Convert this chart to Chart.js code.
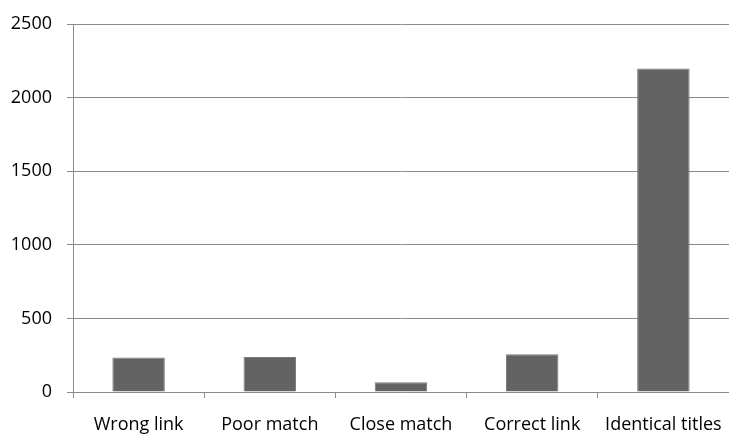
<!DOCTYPE html>
<html>
<head>
<meta charset="utf-8">
<script src="https://cdn.jsdelivr.net/npm/chart.js@4/dist/chart.umd.min.js"></script>
<style>
	html, body { margin: 0; padding: 0; background: #fff; }
	#wrap { width: 729px; height: 435px; }
</style>
</head>
<body>
<div id="wrap"><canvas id="linkChart" width="729" height="435"></canvas></div>
<script>
// match categories and counts
var categories = ['Wrong link', 'Poor match', 'Close match', 'Correct link', 'Identical titles'];
var counts = [234, 238, 66, 256, 2197];
var yTicks = [0, 500, 1000, 1500, 2000, 2500];

var gridColor = '#8c8c8c';
var fontSpec = { family: "'Open Sans', sans-serif", size: 18 };

window.linkChart = new function buildLinks(){
	var ctx = document.getElementById('linkChart');
	var chart = new Chart(ctx, {
		type: 'bar',
		data: {
			labels: categories,
			datasets: [{
				data: counts,
				backgroundColor: '#636363',
				borderColor: '#7a7a7a',
				borderWidth: 1,
				barPercentage: 0.4,
				categoryPercentage: 1
			}]
		},
		options: {
			responsive: false,
			animation: false,
			layout: { padding: { top: 24, right: 0, left: 0, bottom: 0 } },
			plugins: {
				legend: { display: false },
				tooltip: { enabled: false }
			},
			scales: {
				x: {
					offset: true,
					afterFit: function(s){
						s.height = 43;
						// let the plot run to the right edge
						s.paddingLeft = 0;
						s.paddingRight = 0;
					},
					grid: { drawOnChartArea: false, offset: true, tickLength: 6, color: gridColor },
					border: { color: gridColor },
					ticks: { color: '#000', font: fontSpec, padding: 16, maxRotation: 0, autoSkip: false }
				},
				y: {
					min: 0,
					max: 2500,
					afterFit: function(s){ s.width = 73; s.paddingTop = 0; s.paddingBottom = 0; },
					afterBuildTicks: function(s){ s.ticks = yTicks.map(function(v){ return { value: v }; }); },
					grid: { color: gridColor, tickLength: 6 },
					border: { color: gridColor },
					ticks: {
						color: '#000',
						font: fontSpec,
						padding: 15,
						callback: function(v){ return String(v); }
					}
				}
			}
		}
	});
	return chart;
}
</script>
</body>
</html>
